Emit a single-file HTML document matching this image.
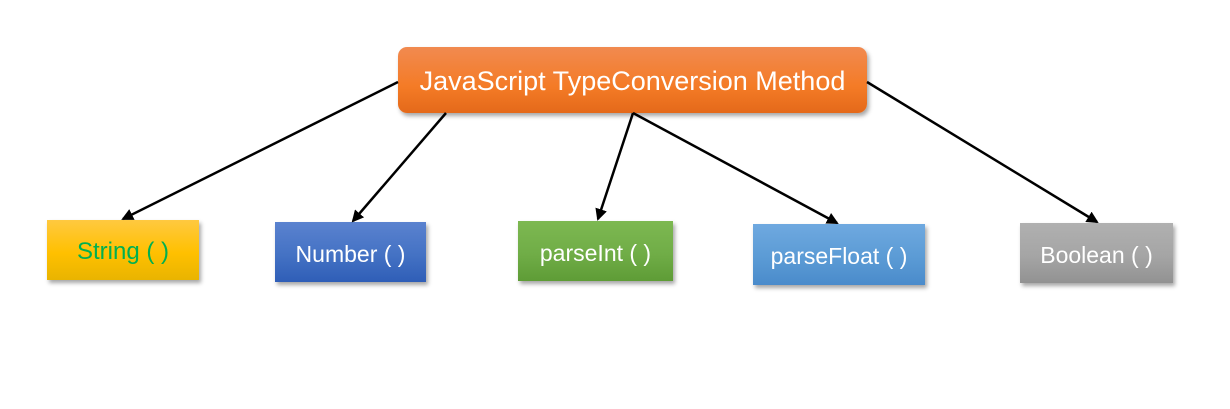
<!DOCTYPE html>
<html><head><style>
body{margin:0;width:1230px;height:409px;background:#fff;position:relative;overflow:hidden;font-family:"Liberation Sans",sans-serif}
.b{position:absolute;display:flex;align-items:center;justify-content:center;color:#fff;font-size:23px;box-shadow:2px 3px 4px rgba(0,0,0,.35);padding-top:4px;box-sizing:border-box}
</style></head><body>
<div class="b" style="left:398px;top:47px;width:469px;height:66px;border-radius:9px;background:linear-gradient(#f18a50,#f47b26 60%,#e4691a);font-size:27px;padding-top:3px">JavaScript TypeConversion Method</div>
<div class="b" style="left:47px;top:220px;width:152px;height:60px;background:linear-gradient(#ffc940,#ffc000 55%,#e9b400);color:#00b050;font-size:24px">String ( )</div>
<div class="b" style="left:275px;top:222px;width:151px;height:60px;background:linear-gradient(#5a82cf,#4472c4 55%,#2f5eb7)">Number ( )</div>
<div class="b" style="left:518px;top:221px;width:155px;height:60px;background:linear-gradient(#7db851,#70ad47 55%,#5e9c36)">parseInt ( )</div>
<div class="b" style="left:753px;top:224px;width:172px;height:61px;background:linear-gradient(#6fa9e0,#5b9bd5 55%,#4a8bcb)">parseFloat ( )</div>
<div class="b" style="left:1020px;top:223px;width:153px;height:60px;background:linear-gradient(#b0b0b0,#a5a5a5 55%,#929292)">Boolean ( )</div>
<svg width="1230" height="409" style="position:absolute;left:0;top:0">
<defs><marker id="a" markerWidth="12" markerHeight="12" refX="10" refY="6" orient="auto" markerUnits="userSpaceOnUse"><path d="M0,0 L12,6 L0,12 z" fill="#000"/></marker></defs>
<g stroke="#000" stroke-width="2.5" marker-end="url(#a)">
<line x1="398" y1="82" x2="123" y2="219"/>
<line x1="446" y1="113" x2="353" y2="221"/>
<line x1="633" y1="113" x2="598" y2="219"/>
<line x1="633" y1="113" x2="837" y2="223"/>
<line x1="867" y1="82" x2="1097" y2="222"/>
</g></svg>
</body></html>
